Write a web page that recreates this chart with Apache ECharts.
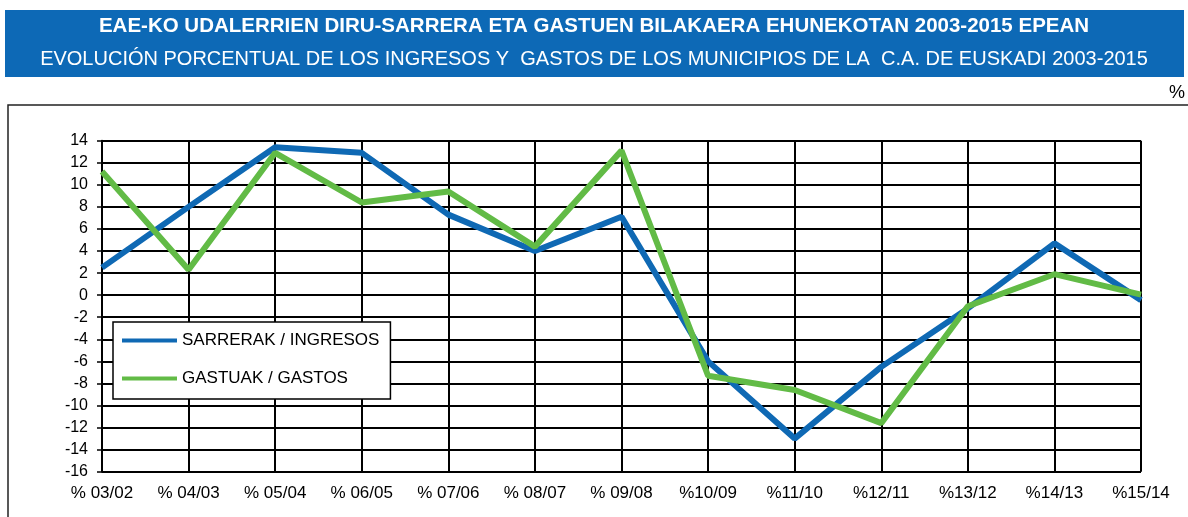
<!DOCTYPE html>
<html lang="es">
<head>
    <meta charset="UTF-8">
    <title>Evolución porcentual ingresos y gastos</title>
    <script src="https://cdn.jsdelivr.net/npm/echarts@6/dist/echarts.min.js"></script>
    <style>
        html, body { margin: 0; padding: 0; background: #fff; }
        #main { width: 1188px; height: 517px; }
    </style>
</head>
<body>
<div id="main"></div>
<script>
    // datos
    var categorias = ['% 03/02', '% 04/03', '% 05/04', '% 06/05', '% 07/06', '% 08/07', '% 09/08',
        '%10/09', '%11/10', '%12/11', '%13/12', '%14/13', '%15/14'];
    var ingresos = [2.5, 8.0, 13.4, 12.9, 7.3, 4.0, 7.1, -6.0, -13.0, -6.5, -1.2, 4.7, -0.45];
    var gastos = [11.2, 2.3, 12.9, 8.4, 9.4, 4.4, 13.1, -7.3, -8.6, -11.6, -1.0, 1.9, 0.05];
    var nombres = ['SARRERAK / INGRESOS', 'GASTUAK / GASTOS'];
    var titulo1 = 'EAE-KO UDALERRIEN DIRU-SARRERA ETA GASTUEN BILAKAERA EHUNEKOTAN 2003-2015 EPEAN';
    var titulo2 = 'EVOLUCIÓN PORCENTUAL DE LOS INGRESOS Y  GASTOS DE LOS MUNICIPIOS DE LA  C.A. DE EUSKADI 2003-2015';

    var fuente = '"Liberation Sans", Arial, sans-serif';
    var myChart = echarts.init(document.getElementById('main'));

    var option = {
        animation: false,
        color: ['#0f69b4', '#62bb46'],
        textStyle: { fontFamily: fuente },
        title: [
            {
                text: titulo1,
                left: 'center',
                top: 11,
                textStyle: { color: '#fff', fontSize: 20.5, fontWeight: 'bold', fontFamily: fuente }
            },
            {
                text: titulo2,
                left: 'center',
                top: 44,
                textStyle: { color: '#fff', fontSize: 20, fontWeight: 'normal', fontFamily: fuente }
            },
            {
                text: '%',
                left: 1164,
                top: 79,
                textStyle: { color: '#000', fontSize: 18, fontWeight: 'normal', fontFamily: fuente }
            }
        ],
        // caja azul del titulo y marco exterior
        graphic: [
            {
                type: 'rect', z: -10,
                shape: { x: 5, y: 10, width: 1179, height: 67 },
                style: { fill: '#0d69b6' }
            },
            {
                type: 'rect', z: -10,
                shape: { x: 8, y: 105, width: 1182, height: 430 },
                style: { fill: 'none', stroke: '#222', lineWidth: 1.5 }
            }
        ],
        legend: {
            orient: 'vertical',
            left: 113,
            top: 322,
            padding: [10, 11, 12, 9],
            itemGap: 21,
            itemWidth: 55,
            itemHeight: 4,
            icon: 'rect',
            backgroundColor: '#fff',
            borderColor: '#000',
            borderWidth: 1.5,
            textStyle: { color: '#000', fontSize: 17, fontFamily: fuente },
            data: nombres
        },
        grid: {
            left: 102,
            right: 47,
            top: 140.7,
            bottom: 45.3
        },
        xAxis: {
            type: 'category',
            boundaryGap: false,
            data: categorias,
            axisLine: { lineStyle: { color: '#000', width: 2 } },
            axisTick: { show: false },
            axisLabel: { color: '#000', fontSize: 17, margin: 13, interval: 0 },
            splitLine: { show: true, interval: 0, lineStyle: { color: '#000', width: 2 } }
        },
        yAxis: {
            type: 'value',
            min: -16,
            max: 14,
            interval: 2,
            axisLine: { show: true, lineStyle: { color: '#000', width: 2 } },
            axisTick: { show: true, length: 5, lineStyle: { color: '#000', width: 1.5 } },
            axisLabel: { color: '#000', fontSize: 16, margin: 14 },
            splitLine: { lineStyle: { color: '#000', width: 2 } }
        },
        series: [
            {
                name: nombres[0],
                type: 'line',
                data: ingresos,
                symbol: 'none',
                lineStyle: { width: 6 }
            },
            {
                name: nombres[1],
                type: 'line',
                data: gastos,
                symbol: 'none',
                lineStyle: { width: 6 }
            }
        ]
    };

    myChart.setOption(option);
</script>
</body>
</html>
